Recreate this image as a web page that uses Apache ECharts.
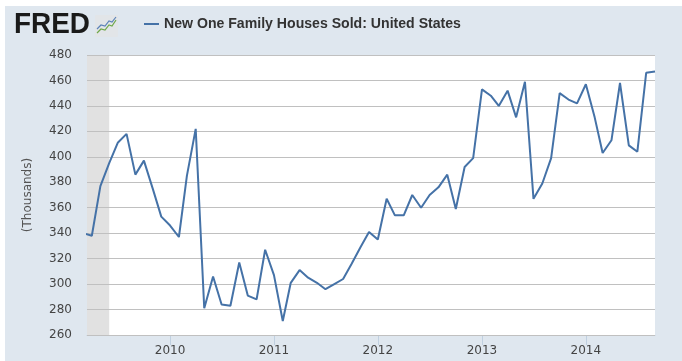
<!DOCTYPE html>
<html>
<head>
<meta charset="utf-8">
<script src="https://cdn.jsdelivr.net/npm/echarts@6/dist/echarts.min.js"></script>
<style>
html,body{margin:0;padding:0;background:#fff;}
#chart{width:682px;height:361px;}
</style>
</head>
<body>
<div id="chart"></div>
<script>
// ---- data ----
const seriesName = 'New One Family Houses Sold: United States';
const months = [
  '2009-03','2009-04','2009-05','2009-06','2009-07','2009-08','2009-09','2009-10','2009-11','2009-12',
  '2010-01','2010-02','2010-03','2010-04','2010-05','2010-06','2010-07','2010-08','2010-09','2010-10','2010-11','2010-12',
  '2011-01','2011-02','2011-03','2011-04','2011-05','2011-06','2011-07','2011-08','2011-09','2011-10','2011-11','2011-12',
  '2012-01','2012-02','2012-03','2012-04','2012-05','2012-06','2012-07','2012-08','2012-09','2012-10','2012-11','2012-12',
  '2013-01','2013-02','2013-03','2013-04','2013-05','2013-06','2013-07','2013-08','2013-09','2013-10','2013-11','2013-12',
  '2014-01','2014-02','2014-03','2014-04','2014-05','2014-06','2014-07','2014-08','2014-09'
];
const houseSales = [
  340,338,377,395,411,418,386,397,375,353,
  346,337,385,422,281,306,284,283,317,291,288,327,
  307,271,301,311,305,301,296,300,304,316,329,341,
  335,367,354,354,370,360,370,376,386,359,392,399,
  453,448,440,452,431,459,367,379,399,450,445,442,
  457,431,403,413,458,409,404,466,467
];
const recessionStart = '2009-03-15';
const recessionEnd = '2009-06-01';
const xMin = '2009-03-15';
const xMax = '2014-09-01';
const yTicks = [260, 280, 300, 320, 340, 360, 380, 400, 420, 440, 460, 480];
const yAxisName = '(Thousands)';

const chart = echarts.init(document.getElementById('chart'), null, {renderer: 'canvas'});
const lineData = months.map((m, i) => [m + '-01', houseSales[i]]);

const option = {
  backgroundColor: '#ffffff',
  animation: false,
  graphic: [
    { type: 'rect', z: -10, shape: { x: 5, y: 6, width: 677, height: 355 }, style: { fill: '#dfe7ef' } },
    { type: 'text', z: 10, x: 14, y: 10, scaleX: 0.93,
      style: { text: 'FRED', fill: '#1a1a1a', font: '900 30px "Liberation Sans", Arial, sans-serif' } },
    { type: 'group', z: 10, x: 95, y: 15, children: [
      { type: 'rect', shape: { x: 0, y: 0, width: 23, height: 22, r: 1 }, style: { fill: '#e2e5e8' } },
      { type: 'polyline', shape: { points: [[2,18],[6,14],[10,15],[14,10],[17,11],[21,5]] }, style: { stroke: '#6fa84a', lineWidth: 1.2, fill: null } },
      { type: 'polyline', shape: { points: [[2,14],[6,10],[10,11],[14,6],[17,7],[21,2]] }, style: { stroke: '#5b82b8', lineWidth: 1.2, fill: null } }
    ]},
    { type: 'group', z: 10, x: 144, y: 24, children: [
      { type: 'line', shape: { x1: 0, y1: 0, x2: 15, y2: 0 }, style: { stroke: '#4572a7', lineWidth: 2 } },
      { type: 'text', x: 20, y: 0, scaleX: 0.94,
        style: { text: seriesName, fill: '#333', verticalAlign: 'middle',
                 font: 'bold 15px "Liberation Sans", Arial, sans-serif' } }
    ]}
  ],
  grid: { left: 87, right: 27, top: 55, bottom: 26, show: true, backgroundColor: '#ffffff', borderWidth: 0 },
  xAxis: {
    type: 'time',
    min: xMin, max: xMax,
    minInterval: 365 * 24 * 3600 * 1000,
    maxInterval: 366 * 24 * 3600 * 1000,
    axisLine: { show: true, lineStyle: { color: '#c0d0e0', width: 1 } },
    axisTick: { show: true, length: 10, lineStyle: { color: '#c0d0e0' } },
    splitLine: { show: false },
    axisLabel: {
      formatter: '{yyyy}', color: '#444', fontSize: 12, margin: 10,
      fontFamily: '"DejaVu Sans", Verdana, sans-serif',
      showMinLabel: false, showMaxLabel: false
    }
  },
  yAxis: {
    type: 'value',
    z: 2,
    min: yTicks[0], max: yTicks[yTicks.length - 1], interval: 20,
    name: yAxisName,
    nameLocation: 'middle',
    nameGap: 53,
    nameRotate: 90,
    nameTextStyle: { color: '#555', fontSize: 12, fontFamily: '"DejaVu Sans", Verdana, sans-serif' },
    axisLine: { show: false },
    axisTick: { show: false },
    splitLine: { show: true, lineStyle: { color: '#c0c0c0', width: 1 } },
    axisLabel: { color: '#444', fontSize: 12, margin: 15, fontFamily: '"DejaVu Sans", Verdana, sans-serif' }
  },
  series: [
    {
      name: 'recession', type: 'line', z: 1, data: [], silent: true,
      markArea: {
        silent: true,
        itemStyle: { color: '#e1e1e1' },
        data: [[{ xAxis: recessionStart }, { xAxis: recessionEnd }]]
      }
    },
    {
      name: seriesName,
      type: 'line', z: 3,
      data: lineData,
      showSymbol: false,
      symbol: 'none',
      clip: true,
      lineStyle: { color: '#4572a7', width: 2 },
      itemStyle: { color: '#4572a7' }
    }
  ]
};
chart.setOption(option);
</script>
</body>
</html>
